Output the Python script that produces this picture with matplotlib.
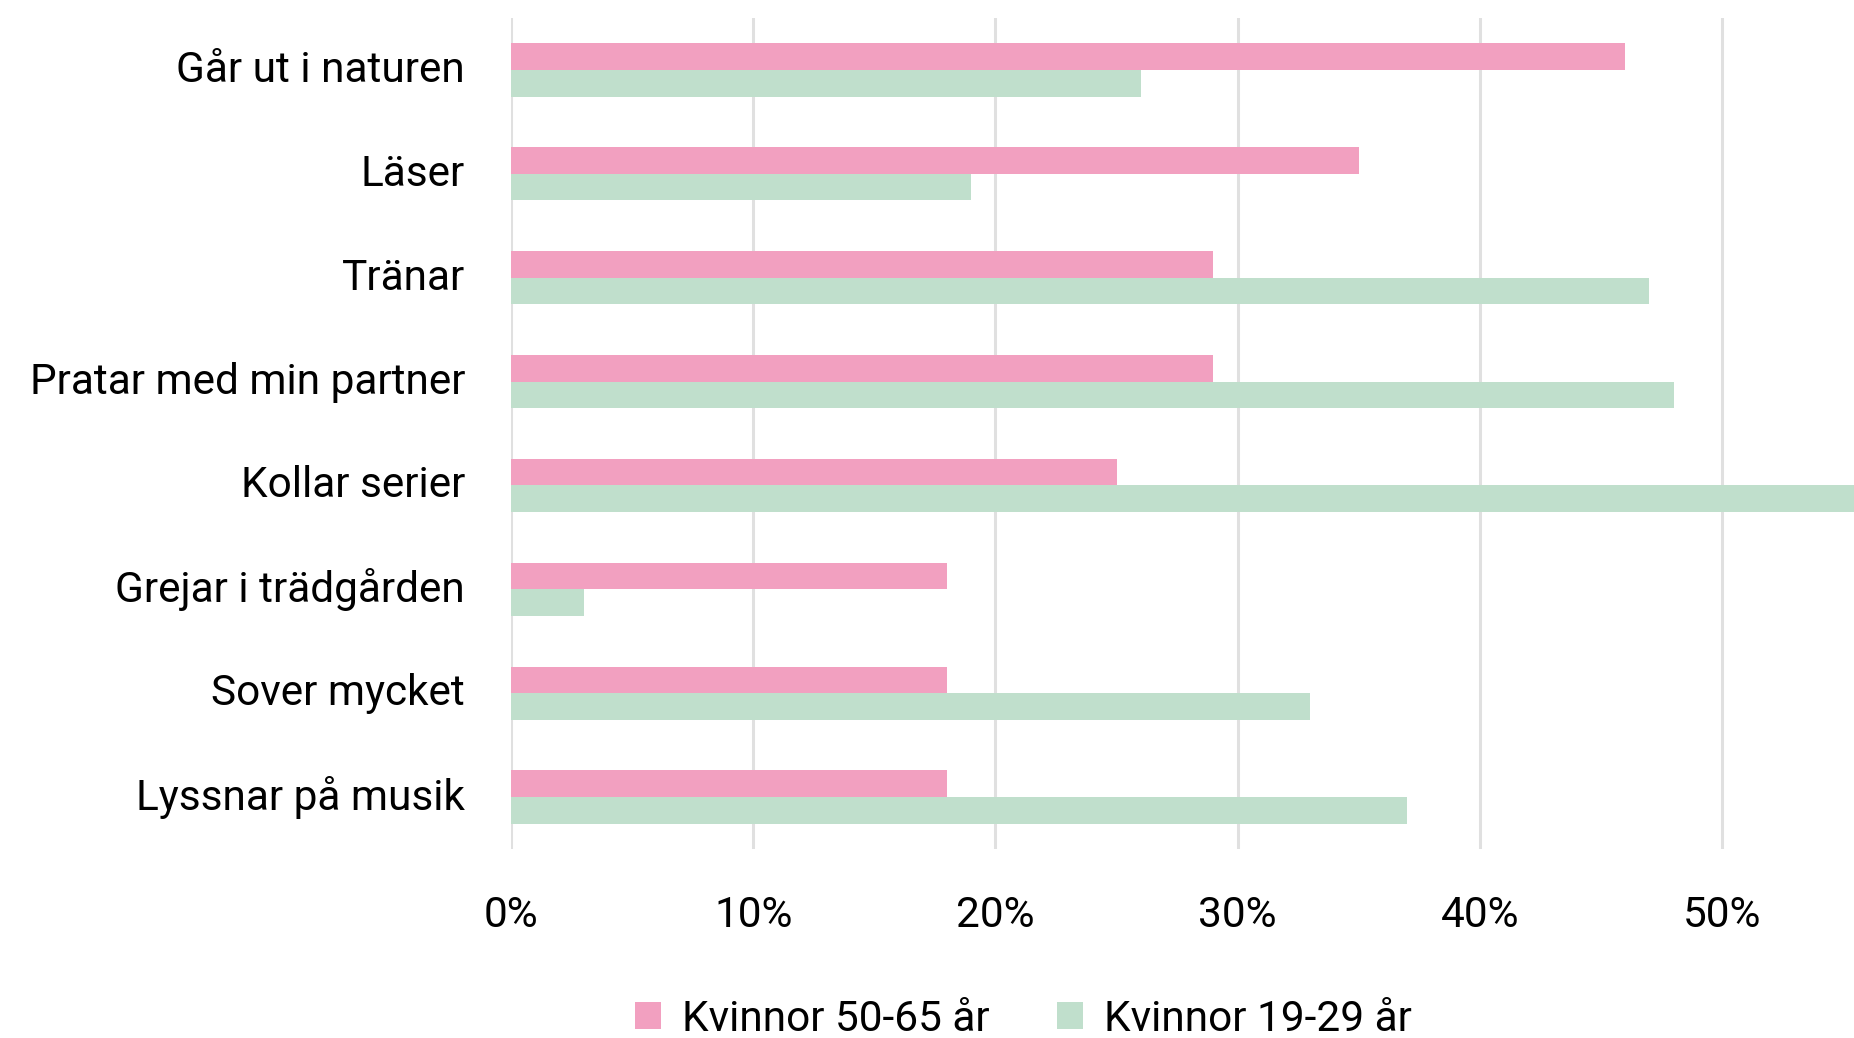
import numpy as np
import matplotlib
matplotlib.use("Agg")
import matplotlib.pyplot as plt
import matplotlib.transforms as mtransforms
from matplotlib.ticker import FuncFormatter

plt.rcParams['font.family'] = ['Roboto', 'DejaVu Sans']

# Data
categories = ["Går ut i naturen", "Läser", "Tränar", "Pratar med min partner",
              "Kollar serier", "Grejar i trädgården", "Sover mycket", "Lyssnar på musik"]
women_50_65 = [46, 35, 29, 29, 25, 18, 18, 18]
women_19_29 = [26, 19, 47, 48, 58, 3, 33, 37]
series_names = ["Kvinnor 50-65 år", "Kvinnor 19-29 år"]

pink = "#f2a0c0"
green = "#c0dfcc"
fs = 30.5

fig = plt.figure(figsize=(18.54, 10.38), dpi=100)
ax = fig.add_axes([511 / 1854, 1 - 849 / 1038, 1 - 511 / 1854, (849 - 18) / 1038])

y = np.arange(len(categories))
h = 0.256
ax.barh(y - h / 2, women_50_65, height=h, color=pink, label=series_names[0], zorder=2)
ax.barh(y + h / 2, women_19_29, height=h, color=green, label=series_names[1], zorder=2)

ax.set_xlim(0, 55.45)
ax.set_ylim(len(categories) - 0.5, -0.5)
ax.set_yticks(y)
ax.set_yticklabels(categories)
ax.set_xticks(np.arange(0, 51, 10))
ax.xaxis.set_major_formatter(FuncFormatter(lambda v, p: f"{int(v)}%"))

ax.grid(axis="x", color="#e0e0e0", linewidth=2.2, zorder=1)
for s in ax.spines.values():
    s.set_visible(False)
ax.tick_params(axis="both", length=0, labelsize=fs, colors="black")
ax.tick_params(axis="y", pad=33)
ax.tick_params(axis="x", pad=33)

# labels sit a little above the group centre
shift = mtransforms.ScaledTranslation(0, 0.04, fig.dpi_scale_trans)
for lbl in ax.get_yticklabels():
    lbl.set_transform(lbl.get_transform() + shift)

fig.legend(loc="center", bbox_to_anchor=(0.552, 0.018), ncol=2, frameon=False,
           fontsize=fs, handlelength=0.61, handleheight=0.61, handletextpad=0.5,
           columnspacing=1.6)

fig.savefig("out.png", dpi=100)
